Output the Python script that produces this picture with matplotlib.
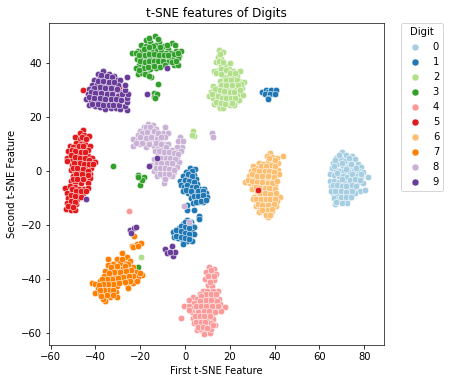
import matplotlib
matplotlib.use("Agg")
import matplotlib.pyplot as plt
from matplotlib.lines import Line2D

digit_labels = ["0", "1", "2", "3", "4", "5", "6", "7", "8", "9"]
palette = ["#a6cee3", "#1f78b4", "#b2df8a", "#33a02c", "#fb9a99",
           "#e31a1c", "#fdbf6f", "#ff7f00", "#cab2d6", "#6a3d9a"]

digit_0 = [(70,7.2),(72,6),(74.5,5.5),(67.5,5),(69.5,4.5),(71.5,3.8),(73.5,3.5),(76,4.5),(66,3),(68,2.8),(70.5,2),(72.8,1.5),(75,2),(77,2.5),(78.5,1.5),(65.5,1),(67.5,0.5),(69,0.2),(71,0),(73.5,-0.2),(75.5,0),(77.5,0),(79.5,-0.5),(64.8,-1),(66.5,-1.5),(68.5,-2),(70.5,-2),(72.5,-2.2),(74.5,-2),(76.5,-2),(78.5,-2.2),(81.5,-2.3),(64.5,-3.5),(66.5,-3.8),(68.7,-4),(71,-4.2),(73,-4.5),(75,-4),(77,-4.2),(79.3,-4.5),(65,-5.5),(67,-6),(69,-6.5),(71,-6.5),(73.5,-6.5),(75.5,-6.2),(78,-7.5),(80.5,-7.2),(66,-8),(68,-8.5),(70,-8.5),(72,-8.8),(74,-8.5),(76,-8.3),(66.5,-10),(68.5,-10.5),(71,-10.8),(73,-10),(67,-12.3),(72.5,-11.8),(65,-7.5),
           (68.5,6),(73,5),(66.8,4),(70,3),(74,2.5),(76.5,1),(66.5,2),(72,0.8),(68,-0.8),(74.5,-1),(78.5,-1),(70,-3),(73.5,-3.2),(75.8,-3.1),(78,-3.3),(66,-5),(68,-5.3),(70,-5.4),(72,-5.5),(74.5,-5.3),(76.5,-5.5),(67,-7.3),(69.5,-7.5),(72,-7.6),(74.5,-7.4),(69.5,-9.7),(72,-9.7),(67.5,-11.3),(70,-12),(74,-9.7)]
digit_1 = [(34.5,29.5),(36,30),(37,29.5),(38.5,30.2),(40.5,30),(35.5,28.8),(38,28.5),(40,28.7),(37,27.2),(37.2,26.7),
           (2.2,1),(4.5,0.7),(0.5,-0.5),(2.3,-1),(4,-1.3),(-1,-2),(1,-2.5),(3,-3),(5,-3),(-2.2,-3.5),(-0.5,-4),(1.5,-4.5),(3.5,-5),(5.3,-4.8),(-2,-5.3),(-0.3,-6),(2,-6.2),(4,-7),(6.7,-6.5),(8.5,-6.5),(-0.8,-7.5),(1.3,-8),(3,-8.5),(5,-8.5),(7,-8.2),(9.5,-8),(2.5,-10),(4.5,-10.3),(6.5,-10),(8.5,-10),(10,-9.5),(8.2,-11.5),(6,-11.5),(3.7,-12),(0.7,-14.5),(4.2,-14.5),(0.7,-12.5),(6.4,-16.5),(6.4,-17.7),
           (0.7,-18.2),(2.5,-18.8),(-1,-19.5),(1,-20),(3,-20.5),(4,-20.7),(-2.8,-21),(-0.8,-21.5),(1.2,-22),(3,-22.5),(-5.5,-22.5),(-3.5,-23),(-1.5,-23.5),(0.5,-24),(2,-24.5),(4,-23.5),(-5,-24.5),(-3,-25),(-1,-25.5),(1,-26),(3.3,-25.9),(-0.7,-26.9),
           (3,0.2),(1.5,-1.2),(3,-2),(0,-3.2),(2,-3.7),(4,-4),(0.8,-5.3),(3,-5.8),(5,-6),(0.5,-7),(2.8,-7.3),(6,-7.3),(8,-7.5),(4,-9.3),(6,-9.2),(8,-9),(5,-11.3),(7.2,-11),(9.3,-10.8),(0,-19),(2,-19.7),(-2,-20.5),(0,-20.8),(2,-21.3),(-4,-22),(-2,-22.3),(0,-23),(2,-23.3),(-4,-24),(-2,-24.3),(0,-25),(2,-25.3)]
digit_2 = [(15,45),(16.8,44.3),(14.5,42.5),(16.2,41.5),(14,40.5),(16,39.5),(18,39),(20,40.3),(15,37.5),(17,37),(19.5,38),(21.5,37),(13,37),(14,36.3),(24.5,37),(23,35.5),(17.5,35),(19.5,35.2),(21.5,34.5),(24,33.5),(26.5,33.2),(15.5,33.5),(17.5,32.8),(20,33),(22,32.5),(12.5,31.5),(14.5,31),(16.5,30.5),(19,31),(21,30.5),(23,30.5),(25.5,31),(11.5,29.5),(13.5,29),(15.5,28.5),(18,28.5),(20,28),(22.5,28.5),(24.5,28.5),(26,28.3),(10.5,28),(12.5,27),(14.5,26.5),(17,26),(19,26),(21,26.5),(23,26),(13,25),(15,24.5),(17,24),(20,24.5),(22,24.5),(15.5,23.5),(16.8,23.4),(24,26.5),
           (15.5,43.5),(15,41),(17,40.5),(16,38),(18.5,37.5),(20,36.5),(22.5,36.3),(16,36),(18.5,34),(20.5,33.8),(23,33.8),(25,32.3),(16,32),(18.5,32),(21,31.8),(23.5,32),(13.5,30.5),(15.5,30),(17.5,29.8),(20,29.5),(22,29.5),(24.5,30),(12,28.5),(14.5,27.8),(16.5,27.3),(18.5,27.2),(20.5,27.2),(22.5,27.2),(14,25.5),(16,25.3),(18,25),(21,25.2),
           (3.4,14.8),(4,13),(3,13.3),(-19.6,-31.8)]
digit_3 = [(-13.4,50),(-17.5,48.8),(-15.5,48),(-11.5,47.8),(-19.5,47),(-17.5,46.5),(-13.5,47),(-9.5,46.5),(-6,47.5),(-4.5,46.8),(-7.5,45.5),(-21,44.5),(-23.8,44),(-22,43.8),(-19,44.5),(-16.8,44.3),(-14.5,45),(-12.5,44.8),(-10.5,44.5),(-8.5,43.8),(-6.2,44),(-4,44.5),(-1.8,44.5),(-2.5,42.8),(-21.5,41.5),(-19.5,42),(-17.5,41.8),(-15.5,42.5),(-13.5,42.3),(-11.3,42),(-9,41.5),(-7,42),(-5,42),(-3,42),(-20.5,39.5),(-18.5,39.5),(-16.5,39.8),(-14.5,40),(-12.2,40),(-10,39.8),(-8,40.5),(-5,39.5),(-3,39.5),(-22,38.3),(-19.5,37.5),(-17.5,37.5),(-15.5,37.8),(-13,38.2),(-21,36),(-19,36.5),(-15,34.8),(-17,36),
           (-16,49.5),(-12,49),(-14.5,46.5),(-18.5,45.5),(-16,46),(-11,46),(-8,47),(-20.5,43),(-18,43),(-16,43.5),(-14,43.5),(-11.5,43.3),(-9.5,43),(-7.5,43.2),(-5,43.5),(-3,44),(-20,40.8),(-18,40.7),(-16,41),(-14,41),(-12,41),(-10,41),(-6,40.5),(-4,40.8),(-18.5,38.3),(-16.5,38.5),(-14,39),(-11,38.8),(-20.5,37.7),(-18,36),(-16,35.5),(-9,39.5),
           (-11.9,32.3),(-14,29),(-13,28),(-14,27.5),(-12.7,28.5),(-13.5,27),(-32.3,2),(-20.8,-1.5),(-18.2,-2.3),(-20,-5.2),(-19.3,-3.3),(-21,-2.2),(-21,-35.8)]
digit_4 = [(10.9,-35.6),(13,-36.3),(9.5,-37.5),(11.5,-38),(14,-38.3),(8.9,-39.9),(11,-40),(13,-40.5),(10.1,-42.4),(12,-42.5),(14.9,-44.5),(8,-44.5),(10,-44.5),(12.5,-44.7),(6.7,-45.5),(3.7,-46.7),(5.5,-47.5),(8,-47),(10.5,-47),(13,-46.8),(15,-47.5),(2,-48),(4,-49),(6.5,-49),(9,-49),(11,-49),(13.5,-49),(15.5,-49.5),(17.9,-50.4),(-0.3,-50.2),(1.7,-50),(4,-51),(6,-51.5),(8.3,-51),(10.5,-51),(12.5,-51),(14.5,-51.5),(16,-51.8),(3,-52.5),(5,-53),(7.5,-53),(9.5,-53),(12,-53),(-1.8,-54.5),(3.5,-54.5),(5.5,-55),(7.5,-55),(10,-55.3),(12.5,-55),(4,-56.5),(6,-57),(8,-57),(10,-57.3),(13.4,-57),(5.2,-59),(7,-59),(9,-59.5),(11.2,-60.3),(6.5,-58.5),(8.5,-60.5),(11.5,-58.5),
           (11.5,-36.8),(10.3,-39),(12.8,-39),(11,-41.3),(9.5,-45.7),(11.5,-45.8),(14,-45.5),(7,-46.3),(6.8,-48.2),(9.3,-48),(11.8,-48),(14.3,-48.2),(4.8,-50),(7.3,-50),(9.5,-50),(12,-50),(14.5,-50.2),(2,-51.5),(6,-52.3),(8.5,-52),(10.8,-52),(13.5,-52.3),(4.3,-53.8),(6.5,-54),(8.5,-54),(11,-54),(5,-56),(7,-56),(9,-56),(11.5,-56.5),(12.5,-57.3),(6,-58),(8,-58),(10,-58.3),
           (-25,-14.9)]
digit_5 = [(-45.7,15.2),(-47,14),(-45,13.5),(-42.8,13),(-49,12.5),(-47,12),(-45,11.5),(-48.5,10.5),(-46.5,10),(-44.5,10),(-42.5,9.5),(-51.5,9.5),(-50,8.8),(-48,8.2),(-45.5,8.3),(-43.5,7.8),(-52,7.5),(-50,6.5),(-47.8,6),(-45.5,6.2),(-43.5,5.5),(-41.5,5),(-52.5,5),(-50.5,4.5),(-48.2,4),(-46,4),(-44,3.5),(-42,3.3),(-40,3.3),(-52.8,3.8),(-50.5,2.3),(-48.5,2),(-46,2),(-44,1.5),(-42,1.3),(-51,0.5),(-49,0),(-47,0),(-44.5,-0.5),(-42.3,-1),(-50,-2),(-47.5,-2),(-44.3,-2.5),(-42.5,-2.5),(-51,-3.5),(-49,-4),(-46.5,-4.5),(-43.5,-4.5),(-53.7,-6.3),(-51.5,-5.5),(-49.3,-6),(-47.5,-6.5),(-45,-6.5),(-43.5,-6.3),(-52.5,-8),(-50,-8),(-48,-8.5),(-45.7,-8.3),(-52,-10),(-50,-10.3),(-48,-10.5),(-52.7,-12),(-50.5,-12),(-48.5,-12.3),(-53,-13.9),(-51,-14.5),(-49,-14.3),
           (-46,12.5),(-44,12),(-47.5,9.5),(-45.5,9.3),(-50.5,8),(-49,7.5),(-46.5,7.2),(-44.5,7),(-51,6),(-49,5.3),(-47,5),(-44.8,4.8),(-42.8,4.2),(-49.5,3),(-47,3),(-45,2.7),(-43,2.5),(-41,2.5),(-50,1.2),(-48,1),(-45.5,0.8),(-43.5,0.2),(-48.5,-1),(-46,-1),(-43.5,-1.5),(-50,-3),(-48,-3),(-45.5,-3),(-50.5,-6.8),(-48.5,-7.3),(-46.5,-7.4),(-44,-7.5),(-51,-9),(-49,-9.3),(-46.5,-9.5),(-51,-11),(-49,-11.3),(-52,-13),(-50,-13.3),
           (-45.7,30.1),(-29.3,31.3)]
digit_6 = [(38,6.8),(36.5,5.5),(39,5.2),(41,5),(43.8,5.6),(37,3.5),(39.5,3.3),(41.5,3),(33,3),(35,2.7),(30.5,2),(32.5,1),(34.8,0.8),(37,1.2),(39,1),(41.3,0.5),(29.5,0),(31.5,-0.5),(33.5,-1),(36,-1),(38.5,-1.2),(40.5,-1.5),(42,-1),(28.5,-2),(30.5,-2.5),(32.5,-3),(35,-3),(37,-3.3),(39.2,-3.5),(26.9,-4),(29,-4.5),(31,-5),(33.5,-5),(36,-5.2),(38,-5.5),(40,-5.3),(30,-6.5),(32,-7.5),(34.5,-7),(36.5,-7.3),(39,-7.5),(31,-9.5),(33,-9.5),(35.5,-9.2),(37.5,-9.5),(39.7,-9.5),(42.5,-9.5),(30.5,-10.5),(32.5,-11.5),(35,-11.5),(37,-11.5),(39,-11.5),(41,-11),(31.5,-13),(33.5,-13.5),(36,-13.5),(38,-13.5),(40.5,-13),(33,-15.3),(35.5,-15.2),(37.8,-15.3),(39,-15),(37,-17),
           (37.5,4.8),(40,4.2),(38.5,2.2),(33.8,1.9),(36,2),(40.3,2),(31,0.5),(33,0),(35.5,0.2),(37.5,0),(39.8,-0.2),(30,-1.2),(32,-1.8),(34.5,-2),(37,-2),(39.5,-2.2),(28,-3.2),(30,-3.7),(32,-4),(34.5,-4),(37,-4.3),(39,-4.5),(41,-3.5),(31.5,-6),(33.5,-6.2),(35.5,-6.1),(37.5,-6.4),(40,-6.5),(33.5,-8.3),(35.5,-8.2),(38,-8.5),(40.5,-8.3),(31.5,-10.5),(34,-10.5),(36,-10.5),(38,-10.5),(40,-10.3),(32.5,-12.3),(34.5,-12.5),(37,-12.5),(39.5,-12.3),(34.5,-14.3),(37,-14.4),(39,-14),(36,-16.3),(38,-16.3)]
digit_7 = [(-28.3,-30.6),(-26,-32),(-30.5,-32.5),(-34.5,-32.5),(-24.5,-33.5),(-27,-34),(-29,-34.3),(-32,-34.5),(-34.5,-35),(-23,-35.5),(-25.5,-36),(-28,-36.5),(-30.5,-36.5),(-33,-36.8),(-35.5,-37),(-22,-37.5),(-24,-37.8),(-26.5,-38),(-29,-38.5),(-31.5,-38.7),(-34,-39),(-36,-39),(-19,-38.7),(-21,-39.5),(-23.5,-40),(-26,-40),(-28.5,-40.5),(-31,-40.8),(-33.5,-41),(-36,-41),(-38,-41),(-41.7,-41.4),(-40,-41.8),(-23,-41.5),(-26,-42),(-35,-43),(-33,-43),(-30.5,-42.8),(-37,-43),(-39,-43.5),(-25.3,-43.5),(-40.2,-45.2),(-38,-45.3),(-36,-45),(-33.5,-45),(-31,-45),(-36,-46.8),(-33.5,-46.8),(-30.5,-46.7),(-35.7,-48.3),(-36.5,-47.5),
           (-28,-32.5),(-25.5,-34.5),(-30.5,-35.3),(-33,-35.5),(-27,-35.3),(-24,-36.7),(-26.5,-37),(-29,-37.5),(-31.5,-37.6),(-34,-37.8),(-23,-38.8),(-25.2,-39),(-27.5,-39.2),(-30,-39.7),(-32.5,-39.9),(-35,-40),(-37,-40),(-20,-38),(-21.5,-41),(-24.5,-41),(-27,-41.3),(-29.5,-41.6),(-32,-42),(-34.3,-42),(-36.5,-42),(-38.5,-42.3),(-34,-44),(-36,-44),(-38,-44),(-32,-44),(-35,-45.9),(-32,-45.9),(-37.3,-46.3),
           (-23.8,-28),(-21.6,-27.1),(-19.6,-26.6),(-22.6,-24),(-23,-28.2),(-20.8,-27.8)]
digit_8 = [(-18.5,16.5),(-16.5,17.5),(-14.5,17.3),(-13,15.5),(-9,16.2),(-20,15),(-18,15),(-15.7,15.5),(-10,14),(-7.5,14),(-21,13.5),(-19,13),(-17,13.5),(-14.5,13.5),(-12.5,13),(-23.3,12),(-21,11.5),(-18,11),(-16,11.5),(-13.5,11.5),(-11,11.5),(-9,12.5),(-2.2,12.7),(-3,11),(-0.7,11),(-23,9.5),(-20,10),(-17.5,9),(-14,9.5),(-12,9.5),(-9.5,10),(-7.5,10),(-1.5,9),(-3.8,9),(-13.5,7.5),(-10.5,8),(-8,8),(-6,8),(-4,7),(-2,7.5),(-12,6),(-9.5,6),(-7.5,6),(-5.5,5.5),(-3.5,5),(-14,4.5),(-11.5,4),(-9.5,4),(-7,4),(-4.5,3),(-2.5,3.5),(-15,2.2),(-13,2),(-11,2),(-8.5,2),(-6,1.5),(-3.5,1.5),(-14,0),(-12,0),(-10,0),(-7.5,-0.2),(-5,-0.5),(-12.5,-2),(-10,-2),(-8,-2),(-9.4,-4.3),(-6,-2),
           (-17.5,16.3),(-15.5,16.5),(-19,14),(-17,14.5),(-14,14.8),(-12,14.3),(-20,12.5),(-17.5,12.3),(-15,12.5),(-12.5,12),(-10.5,12.8),(-22,10.5),(-19,10.3),(-16,10.2),(-13,10.5),(-10.8,10),(-8.5,9),(-11.5,7.5),(-9.3,7),(-7,7),(-5,6.8),(-3,6.3),(-12.5,5),(-10.5,5),(-8.5,5),(-6.5,5),(-4.5,4.5),(-12.5,3),(-10.5,3),(-8,3),(-6,3),(-13,1),(-11,1),(-9,1),(-7,0.8),(-5,0.5),(-11,-1),(-9,-1),(-7,-1.2),(-9,-3),
           (11.9,14),(12.3,12.8),(-0.3,-12.9),(1.9,-18.8),(-24.7,-22)]
digit_9 = [(-39,36),(-36.5,37.3),(-34,36),(-31.5,35.5),(-40.5,34),(-38,34.5),(-35.5,34.5),(-33,34),(-30.5,34),(-29,34),(-41.5,32),(-39.5,32.5),(-37,32.2),(-34.5,32),(-32,32.3),(-30,31.8),(-43,30.5),(-41,30.2),(-38.5,30.2),(-36,30),(-33.5,30),(-31,30),(-29.5,29.5),(-43.5,28.5),(-41.5,28),(-39,28),(-37,28),(-34.5,27.7),(-32,27.5),(-30,28),(-44,26.8),(-42,26),(-39.8,26),(-37.5,25.5),(-35,25.5),(-33,25.8),(-30.5,25.5),(-43,24.5),(-40,24),(-38,23.8),(-35.5,23.2),(-33,23.5),(-31,23.5),(-29,23),(-26,22.7),(-27,24),(-25.8,25.5),(-26,27),(-28,28.5),(-25.5,28.7),(-27,30),(-26.8,32),(-25.8,35),
           (-37.5,35.8),(-35,35.5),(-32.5,35),(-39,33.3),(-36.5,33.3),(-34,33),(-31.5,33.2),(-40.5,31),(-38,31.2),(-35.5,31),(-33,31),(-30.5,30.5),(-42,29.3),(-40,29),(-37.5,29),(-35,28.8),(-32.5,28.8),(-43,27.5),(-40.5,27),(-38,27),(-35.5,26.7),(-33,26.7),(-31,26.8),(-41.5,25),(-39,25),(-36.5,24.7),(-34,24.6),(-32,24.6),(-29.5,24.7),(-28.5,26.5),
           (-17,28.5),(-8.2,38.4),(-12.7,5),(-16,2),(-44,-10.5),(-24.5,-22),(-22.6,-21),(-22,-20.7),(-24,-23),
           (-8.9,-29),(-6,-28),(-5.5,-31.6),(-8.2,-30.6),(-4.5,-30),(-6.7,-30)]
# point that sits on top of another digit's cluster
digit_5_over = [(32.5,-7.1)]

clusters = [digit_0, digit_1, digit_2, digit_3, digit_4, digit_5, digit_6, digit_7, digit_8, digit_9]

fig = plt.figure(figsize=(450/72, 387/72), dpi=72)
ax = fig.add_axes([49/450, 1-345/387, (384-49)/450, (345-23)/387])
for pts, col in zip(clusters, palette):
    ax.scatter([p[0] for p in pts], [p[1] for p in pts], s=42, c=col,
               edgecolors="white", linewidths=0.5)
ax.scatter([p[0] for p in digit_5_over], [p[1] for p in digit_5_over], s=42,
           c=palette[5], edgecolors="white", linewidths=0.5)

ax.set_xlim(-60.7, 88.8)
ax.set_ylim(-64.6, 55)
ax.set_xticks([-60, -40, -20, 0, 20, 40, 60, 80])
ax.set_yticks([-60, -40, -20, 0, 20, 40])
ax.set_title("t-SNE features of Digits", fontsize=12)
ax.set_xlabel("First t-SNE Feature", fontsize=10)
ax.set_ylabel("Second t-SNE Feature", fontsize=10)
ax.tick_params(labelsize=10)
for s in ax.spines.values():
    s.set_color("#262626")

handles = [Line2D([], [], ls="", marker="o", ms=7, mfc=c, mec="white", mew=0.5) for c in palette]
ax.legend(handles, digit_labels, title="Digit", loc="upper left",
          bbox_to_anchor=(1.05, 1), borderaxespad=0, fontsize=10, title_fontsize=10)
fig.savefig("out.png", dpi=72)
